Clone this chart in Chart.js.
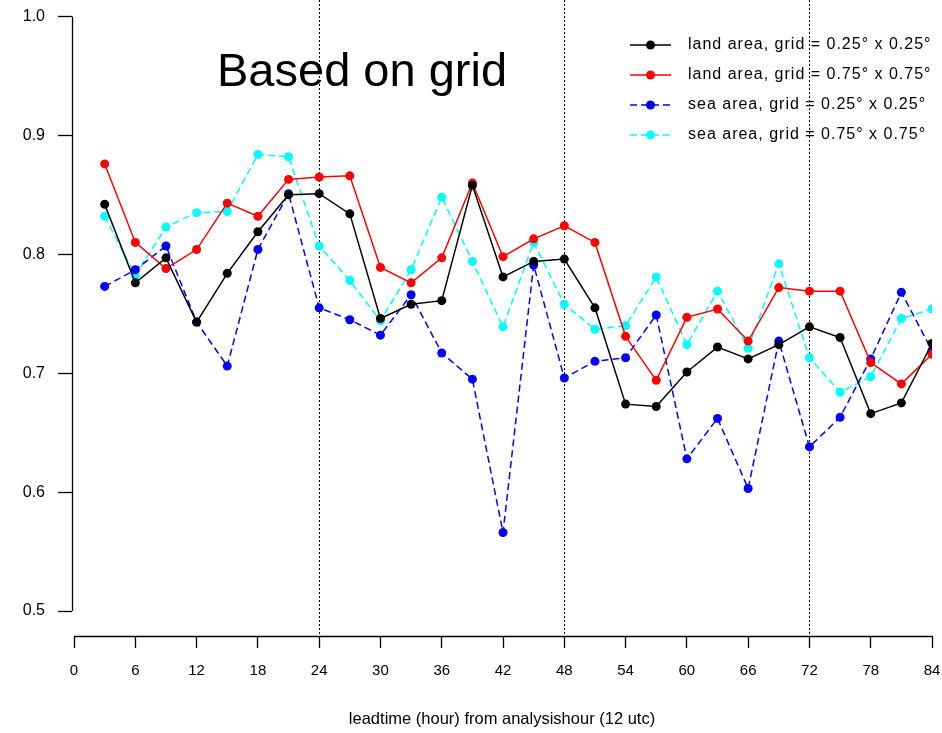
<!DOCTYPE html>
<html>
<head>
<meta charset="utf-8">
<script src="https://cdn.jsdelivr.net/npm/chart.js@4"></script>
<style>
html,body{margin:0;padding:0;background:#fff;}
#wrap{width:942px;height:733px;position:relative;}
</style>
</head>
<body>
<div id="wrap"><canvas id="c" width="942" height="733"></canvas></div>
<script>
const leadtimes = [3,6,9,12,15,18,21,24,27,30,33,36,39,42,45,48,51,54,57,60,63,66,69,72,75,78,81,84];
const landFine   = [0.842,0.776,0.797,0.743,0.784,0.819,0.850,0.851,0.834,0.746,0.758,0.761,0.858,0.781,0.794,0.796,0.755,0.674,0.672,0.701,0.722,0.712,0.724,0.739,0.730,0.666,0.675,0.725];
const landCoarse = [0.876,0.810,0.788,0.804,0.843,0.832,0.863,0.865,0.866,0.789,0.776,0.797,0.860,0.798,0.813,0.824,0.810,0.731,0.694,0.747,0.754,0.727,0.772,0.769,0.769,0.709,0.691,0.716];
const seaFine    = [0.773,0.787,0.807,0.743,0.706,0.804,0.851,0.755,0.745,0.732,0.766,0.717,0.695,0.566,0.791,0.696,0.710,0.713,0.749,0.628,0.662,0.603,0.727,0.638,0.663,0.712,0.768,0.719];
const seaCoarse  = [0.832,0.782,0.823,0.835,0.836,0.884,0.882,0.807,0.778,0.744,0.787,0.848,0.794,0.739,0.810,0.758,0.737,0.740,0.781,0.724,0.769,0.721,0.792,0.713,0.684,0.697,0.746,0.754];
const seriesLabels = [
  "land area, grid = 0.25\u00b0 x 0.25\u00b0",
  "land area, grid = 0.75\u00b0 x 0.75\u00b0",
  "sea area, grid = 0.25\u00b0 x 0.25\u00b0",
  "sea area, grid = 0.75\u00b0 x 0.75\u00b0"
];
const xTicks = [0,6,12,18,24,30,36,42,48,54,60,66,72,78,84];
const yTicks = [0.5,0.6,0.7,0.8,0.9,1.0];
const dayLines = [24,48,72];
const annotation = "Based on grid";
const xTitle = "leadtime (hour) from analysishour (12 utc)";

const FONT = "'Liberation Sans', Arial, Helvetica, sans-serif";

function pts(arr){ return leadtimes.map((x,i)=>({x:x,y:arr[i]})); }
function ds(label, arr, color, dash){
  return {
    label: label, data: pts(arr),
    borderColor: color, backgroundColor: color,
    pointBackgroundColor: color, pointBorderColor: color,
    borderWidth: 1.5, borderDash: dash,
    pointRadius: 4.5, pointHoverRadius: 4.5, pointBorderWidth: 0,
    tension: 0, fill: false
  };
}

const rStyle = {
  id: 'rStyle',
  beforeDatasetsDraw(chart){
    const ctx = chart.ctx, xs = chart.scales.x, ys = chart.scales.y, ca = chart.chartArea;
    ctx.save();
    ctx.strokeStyle = '#000'; ctx.lineWidth = 1; ctx.setLineDash([2,2]);
    dayLines.forEach(v=>{
      const px = Math.round(xs.getPixelForValue(v)) + 0.5;
      ctx.beginPath(); ctx.moveTo(px, 0); ctx.lineTo(px, ca.bottom); ctx.stroke();
    });
    ctx.setLineDash([]);
    ctx.lineWidth = 1.3;
    const yx = Math.round(ca.left) + 0.5;
    ctx.beginPath();
    ctx.moveTo(yx, ys.getPixelForValue(yTicks[0]));
    ctx.lineTo(yx, ys.getPixelForValue(yTicks[yTicks.length-1]));
    ctx.stroke();
    const xy = Math.round(ca.bottom) + 0.5;
    ctx.beginPath();
    ctx.moveTo(xs.getPixelForValue(xTicks[0]), xy);
    ctx.lineTo(xs.getPixelForValue(xTicks[xTicks.length-1]), xy);
    ctx.stroke();
    ctx.fillStyle = '#000';
    ctx.font = "47px " + FONT;
    ctx.textBaseline = 'alphabetic';
    ctx.textAlign = 'left';
    ctx.fillText(annotation, 217, 86);
    ctx.restore();
  },
  afterDatasetsDraw(chart){
    const ctx = chart.ctx;
    ctx.save();
    ctx.font = "16px " + FONT;
    try { ctx.letterSpacing = '1px'; } catch(e) {}
    ctx.textBaseline = 'middle';
    ctx.textAlign = 'left';
    const x0 = 630, x1 = 671, tx = 688, y0 = 45, dy = 30;
    chart.data.datasets.forEach((d,i)=>{
      const y = y0 + i*dy;
      ctx.strokeStyle = d.borderColor; ctx.lineWidth = 1.5;
      ctx.setLineDash(d.borderDash || []);
      ctx.beginPath(); ctx.moveTo(x0, y); ctx.lineTo(x1, y); ctx.stroke();
      ctx.setLineDash([]);
      ctx.fillStyle = d.borderColor;
      ctx.beginPath(); ctx.arc((x0+x1)/2, y, 4.5, 0, Math.PI*2); ctx.fill();
      ctx.fillStyle = '#000';
      ctx.fillText(d.label, tx, y);
    });
    ctx.restore();
  }
};

new Chart(document.getElementById('c'), {
  type: 'line',
  data: {
    datasets: [
      ds(seriesLabels[0], landFine, '#000000', []),
      ds(seriesLabels[1], landCoarse, '#ff0000', []),
      ds(seriesLabels[2], seaFine, '#0000ff', [7,4]),
      ds(seriesLabels[3], seaCoarse, '#00ffff', [7,4])
    ]
  },
  options: {
    responsive: false,
    animation: false,
    layout: { padding: { left: 0, right: 10, top: 0, bottom: 0 } },
    plugins: { legend: { display: false }, tooltip: { enabled: false } },
    scales: {
      x: {
        type: 'linear', min: -0.2, max: 84,
        afterBuildTicks(s){ s.ticks = xTicks.map(v=>({value:v})); },
        afterFit(s){ s.height = 97; s.paddingLeft = 0; s.paddingRight = 0; },
        border: { display: false },
        grid: { drawOnChartArea: false, drawTicks: true, tickLength: 12, color: '#000', tickWidth: 1.3 },
        ticks: { color: '#000', padding: 14, maxRotation: 0, autoSkip: false, font: { family: FONT, size: 15 } },
        title: { display: true, text: xTitle, color: '#000', font: { family: FONT, size: 16.5 }, padding: { top: 0, bottom: 4 } }
      },
      y: {
        type: 'linear', min: 0.5 - 25/1190, max: 1.0 + 12/1190,
        afterBuildTicks(s){ s.ticks = yTicks.map(v=>({value:v})); },
        afterFit(s){ s.width = 72; s.paddingTop = 0; s.paddingBottom = 0; },
        border: { display: false },
        grid: { drawOnChartArea: false, drawTicks: true, tickLength: 14, color: '#000', tickWidth: 1.3 },
        ticks: { color: '#000', padding: 13, font: { family: FONT, size: 16 }, callback: v => v.toFixed(1) }
      }
    }
  },
  plugins: [rStyle]
});
</script>
</body>
</html>
